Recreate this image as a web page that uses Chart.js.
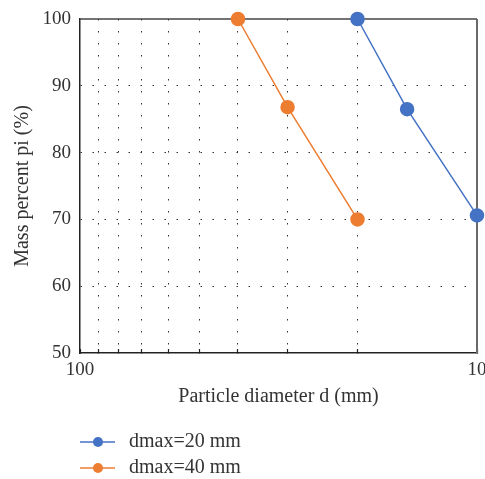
<!DOCTYPE html>
<html>
<head>
<meta charset="utf-8">
<script src="https://cdn.jsdelivr.net/npm/chart.js@4"></script>
<style>
    body { margin: 0; background: #fff; }
    #wrap { width: 485px; height: 479px; position: relative; }
</style>
</head>
<body>
<div id="wrap"><canvas id="gradingChart"></canvas></div>
<script>
// data
const labels = ['dmax=20 mm', 'dmax=40 mm'];
const size20 = [20, 15, 10];
const mass20 = [100, 86.5, 70.6];
const size40 = [40, 30, 20];
const mass40 = [100, 86.8, 70.0];
const xGridValues = [10, 20, 30, 40, 50, 60, 70, 80, 90, 100];
const xTickLabels = [100, 10];
const colors = ['#4472C4', '#ED7D31'];

const FONT = "'Liberation Serif', 'Times New Roman', serif";
const TEXT = '#333333';

function points(xs, ys) {
    return xs.map((x, i) => ({ x: x, y: ys[i] }));
}

// frame on top/right of the plot
const frame = {
    id: 'frame',
    beforeDatasetsDraw(chart) {
        const a = chart.chartArea;
        const ctx = chart.ctx;
        ctx.save();
        ctx.strokeStyle = '#444';
        ctx.lineWidth = 1.5;
        ctx.beginPath();
        ctx.moveTo(a.left, a.top);
        ctx.lineTo(a.right, a.top);
        ctx.stroke();
        ctx.strokeStyle = '#6a6a6a';
        ctx.lineWidth = 2;
        ctx.beginPath();
        ctx.moveTo(a.right, a.top);
        ctx.lineTo(a.right, a.bottom);
        ctx.stroke();
        ctx.restore();
    }
};

// legend stacked one item per row, under the axis title
const stackedLegend = {
    id: 'stackedLegend',
    afterDraw(chart) {
        const ctx = chart.ctx;
        const x0 = chart.chartArea.left;
        ctx.save();
        chart.data.datasets.forEach((ds, i) => {
            const y = 442 + i * 26;
            ctx.strokeStyle = ds.borderColor;
            ctx.lineWidth = 1.5;
            ctx.beginPath();
            ctx.moveTo(x0, y);
            ctx.lineTo(x0 + 35, y);
            ctx.stroke();
            ctx.fillStyle = ds.backgroundColor;
            ctx.beginPath();
            ctx.arc(x0 + 18, y, 5, 0, Math.PI * 2);
            ctx.fill();
            ctx.fillStyle = TEXT;
            ctx.font = '20px ' + FONT;
            ctx.textBaseline = 'middle';
            ctx.fillText(ds.label, x0 + 49, y);
        });
        ctx.restore();
    }
};

new Chart(document.getElementById('gradingChart'), {
    type: 'line',
    data: {
        datasets: [{
            label: labels[0],
            data: points(size20, mass20),
            borderColor: colors[0],
            backgroundColor: colors[0],
            borderWidth: 1.5,
            pointRadius: 6.5,
            pointHoverRadius: 6.5,
            clip: false
        }, {
            label: labels[1],
            data: points(size40, mass40),
            borderColor: colors[1],
            backgroundColor: colors[1],
            borderWidth: 1.5,
            pointRadius: 6.5,
            pointHoverRadius: 6.5,
            clip: false
        }]
    },
    options: {
        responsive: true,
        maintainAspectRatio: false,
        animation: false,
        layout: { padding: { top: 19, right: 8, bottom: 61, left: 0 } },
        plugins: { legend: { display: false }, tooltip: { enabled: false } },
        scales: {
            x: {
                type: 'logarithmic',
                reverse: true,
                min: 10,
                max: 100,
                border: { display: true, color: '#222', width: 1.5, dash: [1.5, 10.5] },
                grid: {
                    color: ctx => (ctx.tick && xTickLabels.includes(ctx.tick.value)) ? 'rgba(0,0,0,0)' : '#333',
                    lineWidth: 1,
                    drawTicks: true,
                    tickLength: -4,
                    tickColor: '#222',
                    tickWidth: 1.2,
                    tickBorderDash: []
                },
                afterBuildTicks(s) {
                    s.ticks = xGridValues.map(v => ({ value: v, major: xTickLabels.includes(v) }));
                },
                ticks: {
                    autoSkip: false,
                    maxRotation: 0,
                    padding: 10,
                    color: TEXT,
                    font: { family: FONT, size: 19 },
                    callback: v => xTickLabels.includes(v) ? String(v) : ''
                },
                title: {
                    display: true,
                    text: 'Particle diameter d (mm)',
                    color: TEXT,
                    font: { family: FONT, size: 20 },
                    padding: { top: 0, bottom: 9 }
                },
                afterFit(s) {
                    s.height = 65;
                    s.paddingLeft = 0;
                    s.paddingRight = 0;
                }
            },
            y: {
                min: 50,
                max: 100,
                border: { display: true, color: '#222', width: 1.5, dash: [1.5, 10.5] },
                grid: {
                    color: ctx => (ctx.tick && (ctx.tick.value === 50 || ctx.tick.value === 100)) ? 'rgba(0,0,0,0)' : '#333',
                    lineWidth: 1,
                    drawTicks: false
                },
                ticks: {
                    stepSize: 10,
                    padding: 9,
                    color: TEXT,
                    font: { family: FONT, size: 19 }
                },
                title: {
                    display: true,
                    text: 'Mass percent pi (%)',
                    color: TEXT,
                    font: { family: FONT, size: 20 },
                    padding: { top: 11, bottom: 0 }
                },
                afterFit(s) {
                    s.width = 80;
                    s.paddingTop = 0;
                    s.paddingBottom = 0;
                }
            }
        }
    },
    plugins: [frame, stackedLegend]
});
</script>
</body>
</html>
